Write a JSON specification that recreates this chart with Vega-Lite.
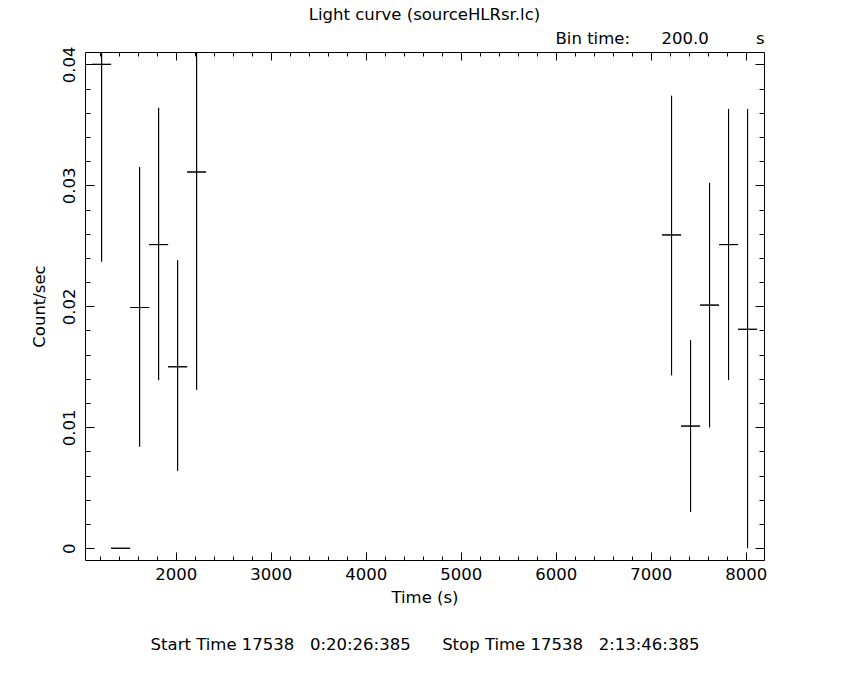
{
  "$schema": "https://vega.github.io/schema/vega-lite/v6.json",
  "width": 679,
  "height": 508,
  "autosize": {"type": "none"},
  "padding": {"left": 85, "top": 52, "right": 86, "bottom": 120},
  "background": "white",
  "title": {"text": "Light curve (sourceHLRsr.lc)", "anchor": "middle", "frame": "group", "font": "DejaVu Sans", "fontSize": 16.5, "fontWeight": "normal", "color": "black", "offset": 7},
  "data": {"values": [
    {"t": 1220, "tlo": 1120, "thi": 1320, "rate": 0.0400, "lo": 0.0237, "hi": 0.0563},
    {"t": 1420, "tlo": 1320, "thi": 1520, "rate": 0.0, "lo": 0.0, "hi": 0.0},
    {"t": 1620, "tlo": 1520, "thi": 1720, "rate": 0.0199, "lo": 0.0084, "hi": 0.0315},
    {"t": 1820, "tlo": 1720, "thi": 1920, "rate": 0.0251, "lo": 0.0139, "hi": 0.0364},
    {"t": 2020, "tlo": 1920, "thi": 2120, "rate": 0.0150, "lo": 0.0064, "hi": 0.0238},
    {"t": 2220, "tlo": 2120, "thi": 2320, "rate": 0.0311, "lo": 0.0131, "hi": 0.0491},
    {"t": 7220, "tlo": 7120, "thi": 7320, "rate": 0.0259, "lo": 0.0143, "hi": 0.0374},
    {"t": 7420, "tlo": 7320, "thi": 7520, "rate": 0.0101, "lo": 0.0030, "hi": 0.0172},
    {"t": 7620, "tlo": 7520, "thi": 7720, "rate": 0.0201, "lo": 0.0100, "hi": 0.0302},
    {"t": 7820, "tlo": 7720, "thi": 7920, "rate": 0.0251, "lo": 0.0139, "hi": 0.0363},
    {"t": 8020, "tlo": 7920, "thi": 8120, "rate": 0.0181, "lo": 0.0, "hi": 0.0363}
  ]},
  "config": {
    "view": {"stroke": null},
    "axis": {
      "grid": false,
      "domainColor": "black",
      "domainWidth": 1,
      "tickColor": "black",
      "tickWidth": 1,
      "labelColor": "black",
      "titleColor": "black",
      "labelFont": "DejaVu Sans",
      "titleFont": "DejaVu Sans",
      "labelFontSize": 16.5,
      "titleFontSize": 16.5,
      "titleFontWeight": "normal"
    }
  },
  "layer": [
    {
      "mark": {"type": "rule", "color": "black", "strokeWidth": 1, "clip": true},
      "encoding": {
        "x": {"field": "t", "type": "quantitative",
          "scale": {"domain": [1045, 8193], "nice": false, "zero": false},
          "axis": {"orient": "bottom", "values": [2000, 3000, 4000, 5000, 6000, 7000, 8000], "format": "d", "tickSize": -8, "labelPadding": 14,
            "title": ["Time (s)", "Start Time 17538\u00a0\u00a0\u00a00:20:26:385\u00a0\u00a0\u00a0\u00a0\u00a0\u00a0Stop Time 17538\u00a0\u00a0\u00a02:13:46:385"],
            "titleLineHeight": 47, "titlePadding": 7}},
        "y": {"field": "lo", "type": "quantitative",
          "scale": {"domain": [-0.00097, 0.04102], "nice": false, "zero": false},
          "axis": {"orient": "left", "values": [0, 0.01, 0.02, 0.03, 0.04], "format": ".2~f", "tickSize": -9, "labelAngle": -90, "labelAlign": "center", "labelBaseline": "bottom", "labelPadding": 17, "title": "Count/sec", "titlePadding": 14}},
        "y2": {"field": "hi"}
      }
    },
    {
      "mark": {"type": "rule", "color": "black", "strokeWidth": 1, "clip": true},
      "encoding": {
        "x": {"field": "tlo", "type": "quantitative",
          "axis": {"orient": "bottom", "values": [1200, 1400, 1600, 1800, 2200, 2400, 2600, 2800, 3200, 3400, 3600, 3800, 4200, 4400, 4600, 4800, 5200, 5400, 5600, 5800, 6200, 6400, 6600, 6800, 7200, 7400, 7600, 7800, 8200], "tickSize": -4, "labels": false, "domain": false, "title": null}},
        "x2": {"field": "thi"},
        "y": {"field": "rate", "type": "quantitative",
          "axis": {"orient": "left", "values": [0.002, 0.004, 0.006, 0.008, 0.012, 0.014, 0.016, 0.018, 0.022, 0.024, 0.026, 0.028, 0.032, 0.034, 0.036, 0.038], "tickSize": -5, "labels": false, "domain": false, "title": null}}
      }
    },
    {
      "mark": {"type": "rule", "color": "black", "strokeWidth": 1, "clip": true},
      "encoding": {
        "x": {"field": "t", "type": "quantitative",
          "axis": {"orient": "top", "values": [2000, 3000, 4000, 5000, 6000, 7000, 8000], "tickSize": -8, "labels": false,
            "title": "Bin time:\u00a0\u00a0\u00a0\u00a0\u00a0\u00a0200.0\u00a0\u00a0\u00a0\u00a0\u00a0\u00a0\u00a0\u00a0\u00a0s", "titleAnchor": "end", "titlePadding": 5}},
        "y": {"field": "lo", "type": "quantitative",
          "axis": {"orient": "right", "values": [0, 0.01, 0.02, 0.03, 0.04], "tickSize": -9, "labels": false, "title": null}},
        "y2": {"field": "hi"}
      }
    },
    {
      "mark": {"type": "rule", "color": "black", "strokeWidth": 1, "clip": true},
      "encoding": {
        "x": {"field": "tlo", "type": "quantitative",
          "axis": {"orient": "top", "values": [1200, 1400, 1600, 1800, 2200, 2400, 2600, 2800, 3200, 3400, 3600, 3800, 4200, 4400, 4600, 4800, 5200, 5400, 5600, 5800, 6200, 6400, 6600, 6800, 7200, 7400, 7600, 7800, 8200], "tickSize": -4, "labels": false, "domain": false, "title": null}},
        "x2": {"field": "thi"},
        "y": {"field": "rate", "type": "quantitative",
          "axis": {"orient": "right", "values": [0.002, 0.004, 0.006, 0.008, 0.012, 0.014, 0.016, 0.018, 0.022, 0.024, 0.026, 0.028, 0.032, 0.034, 0.036, 0.038], "tickSize": -5, "labels": false, "domain": false, "title": null}}
      }
    }
  ],
  "resolve": {"axis": {"x": "independent", "y": "independent"}}
}
